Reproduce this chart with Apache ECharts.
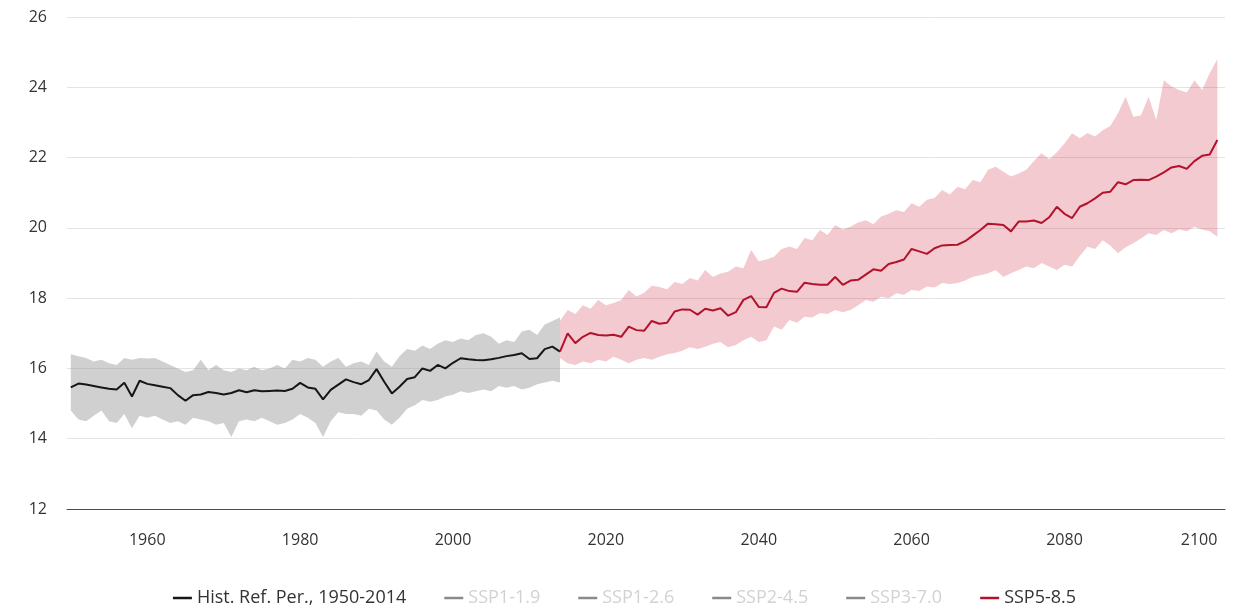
<!DOCTYPE html>
<html>
<head>
<meta charset="utf-8">
<script src="https://cdn.jsdelivr.net/npm/echarts@6/dist/echarts.min.js"></script>
<style>
html,body{margin:0;padding:0;background:#fff;}
#chart{width:1249px;height:609px;}
</style>
</head>
<body>
<div id="chart"></div>
<script>
// ---- data ----
const histStart = 1950;
const histMean = [15.46,15.57,15.54,15.50,15.46,15.42,15.40,15.59,15.20,15.65,
  15.56,15.52,15.48,15.44,15.24,15.08,15.24,15.26,15.33,15.30,
  15.26,15.30,15.38,15.32,15.38,15.35,15.36,15.37,15.36,15.42,
  15.59,15.46,15.42,15.12,15.39,15.54,15.69,15.61,15.55,15.67,
  15.98,15.62,15.29,15.48,15.70,15.75,16.00,15.93,16.10,16.00,
  16.16,16.29,16.26,16.24,16.23,16.26,16.30,16.35,16.38,16.43,
  16.27,16.29,16.55,16.62,16.48];
const histHigh = [16.40,16.35,16.30,16.20,16.25,16.15,16.10,16.30,16.25,16.30,
  16.28,16.30,16.20,16.10,16.00,15.90,15.95,16.25,15.95,16.10,
  15.95,15.90,16.00,15.95,16.05,15.95,16.00,16.10,16.00,16.25,
  16.20,16.30,16.25,16.05,16.20,16.30,16.05,16.15,16.20,16.10,
  16.48,16.20,16.05,16.35,16.55,16.50,16.65,16.55,16.70,16.80,
  16.75,16.85,16.80,16.95,17.00,16.90,16.70,16.80,16.75,17.05,
  17.10,16.95,17.25,17.35,17.45];
const histLow = [14.80,14.55,14.50,14.65,14.80,14.50,14.45,14.70,14.30,14.65,
  14.60,14.65,14.55,14.45,14.50,14.40,14.60,14.55,14.50,14.40,
  14.45,14.05,14.50,14.55,14.50,14.60,14.50,14.40,14.45,14.55,
  14.70,14.60,14.45,14.05,14.50,14.75,14.70,14.70,14.65,14.85,
  14.80,14.55,14.40,14.60,14.85,14.95,15.10,15.05,15.10,15.20,
  15.25,15.35,15.30,15.35,15.40,15.35,15.50,15.45,15.50,15.40,
  15.45,15.55,15.60,15.65,15.60];

const projStart = 2014;
const projMean = [16.48,17.00,16.72,16.90,17.01,16.95,16.94,16.96,16.90,17.19,
  17.09,17.07,17.35,17.27,17.30,17.62,17.68,17.67,17.53,17.70,
  17.65,17.71,17.50,17.60,17.95,18.06,17.75,17.74,18.15,18.27,
  18.20,18.18,18.44,18.40,18.38,18.38,18.60,18.38,18.50,18.52,
  18.67,18.82,18.78,18.97,19.03,19.10,19.40,19.33,19.26,19.42,
  19.50,19.51,19.52,19.62,19.78,19.94,20.12,20.10,20.08,19.90,
  20.18,20.18,20.21,20.14,20.30,20.60,20.40,20.28,20.60,20.70,
  20.84,21.00,21.03,21.30,21.24,21.36,21.37,21.36,21.46,21.58,
  21.72,21.76,21.68,21.90,22.05,22.09,22.50];
const projHigh = [17.35,17.66,17.55,17.80,17.70,17.95,17.80,17.86,17.95,18.23,
  18.05,18.15,18.35,18.32,18.25,18.46,18.40,18.57,18.50,18.80,
  18.60,18.70,18.75,18.90,18.85,19.37,19.05,19.10,19.18,19.40,
  19.47,19.40,19.71,19.65,19.94,19.80,20.08,19.95,20.03,20.15,
  20.22,20.10,20.32,20.40,20.50,20.45,20.70,20.60,20.80,20.85,
  21.08,20.95,21.17,21.10,21.36,21.30,21.65,21.74,21.60,21.46,
  21.55,21.65,21.90,22.12,21.95,22.15,22.40,22.69,22.55,22.70,
  22.60,22.78,22.90,23.26,23.73,23.16,23.20,23.73,23.07,24.20,
  24.02,23.92,23.85,24.20,23.92,24.40,24.80];
const projLow = [16.30,16.15,16.10,16.20,16.15,16.25,16.20,16.33,16.25,16.15,
  16.25,16.30,16.25,16.33,16.40,16.44,16.50,16.60,16.55,16.62,
  16.70,16.75,16.60,16.67,16.80,16.90,16.75,16.80,17.19,17.10,
  17.38,17.30,17.47,17.45,17.58,17.55,17.66,17.60,17.66,17.80,
  17.95,17.90,18.04,18.00,18.14,18.10,18.23,18.20,18.33,18.30,
  18.43,18.40,18.43,18.50,18.61,18.65,18.71,18.80,18.60,18.71,
  18.80,18.90,18.85,19.00,18.90,18.80,18.95,18.90,19.20,19.46,
  19.40,19.65,19.50,19.28,19.45,19.56,19.70,19.85,19.80,19.94,
  19.85,19.95,19.90,20.03,19.95,19.90,19.75];

const xTicks = [1960,1980,2000,2020,2040,2060,2080,2100];
const legendNames = ['Hist. Ref. Per., 1950-2014','SSP1-1.9','SSP1-2.6','SSP2-4.5','SSP3-7.0','SSP5-8.5'];

// ---- build ----
function years(start, n){ const a=[]; for(let i=0;i<n;i++) a.push(start+i); return a; }
const histYears = years(histStart, histMean.length);
const projYears = years(projStart, projMean.length);
function pairs(xs, ys){ return xs.map((x,i)=>[x, ys[i]]); }

function band(name, xs, lo, hi, color){
  return {
    name: name, type:'custom', silent:true, clip:true, z:1,
    data:[[xs[0], lo[0]]],
    renderItem:function(params, api){
      const pts=[];
      for(let i=0;i<xs.length;i++) pts.push(api.coord([xs[i], hi[i]]));
      for(let i=xs.length-1;i>=0;i--) pts.push(api.coord([xs[i], lo[i]]));
      return {type:'polygon', shape:{points:pts}, style:{fill:color}};
    }
  };
}

const chart = echarts.init(document.getElementById('chart'));
const font = "'Open Sans', sans-serif";
const hiddenItems = legendNames.slice(1,5).map(n=>({name:n, textStyle:{color:'#d2d2d2'}}));

chart.setOption({
  animation:false,
  backgroundColor:'#ffffff',
  textStyle:{fontFamily:font},
  grid:{left:67, right:24, top:17, bottom:100},
  legend:{
    top:584, left:'center', icon:'rect', itemWidth:19, itemHeight:2.5, itemGap:38,
    selectedMode:false,
    textStyle:{fontFamily:font, fontSize:18, color:'#333'},
    data:[{name:legendNames[0]}].concat(hiddenItems).concat([{name:legendNames[5]}])
  },
  xAxis:{
    type:'value', min:1949.5, max:2101,
    axisLine:{show:true, lineStyle:{color:'#4d4d4d', width:1.2}},
    axisTick:{show:false},
    splitLine:{show:false},
    axisLabel:{customValues:xTicks, color:'#333', fontSize:16, margin:23, fontFamily:font,
      alignMaxLabel:'right', formatter:function(v){ return String(v); }}
  },
  yAxis:{
    type:'value', min:12, max:26, interval:2,
    axisLine:{show:false}, axisTick:{show:false},
    splitLine:{lineStyle:{color:'#e3e3e3', width:1}},
    axisLabel:{color:'#333', fontSize:16, margin:20, fontFamily:font}
  },
  series:[
    band('histBand', histYears, histLow, histHigh, 'rgba(150,150,150,0.45)'),
    band('projBand', projYears, projLow, projHigh, 'rgba(205,45,65,0.25)'),
    {name:legendNames[0], type:'line', data:pairs(histYears, histMean), showSymbol:false, z:3,
     lineStyle:{color:'#161616', width:2}, itemStyle:{color:'#161616'}},
    {name:legendNames[1], type:'line', data:[], itemStyle:{color:'#8a8a8a'}, lineStyle:{color:'#8a8a8a'}},
    {name:legendNames[2], type:'line', data:[], itemStyle:{color:'#8a8a8a'}, lineStyle:{color:'#8a8a8a'}},
    {name:legendNames[3], type:'line', data:[], itemStyle:{color:'#8a8a8a'}, lineStyle:{color:'#8a8a8a'}},
    {name:legendNames[4], type:'line', data:[], itemStyle:{color:'#8a8a8a'}, lineStyle:{color:'#8a8a8a'}},
    {name:legendNames[5], type:'line', data:pairs(projYears, projMean), showSymbol:false, z:3,
     lineStyle:{color:'#b3122d', width:2}, itemStyle:{color:'#b3122d'}}
  ]
});
</script>
</body>
</html>
